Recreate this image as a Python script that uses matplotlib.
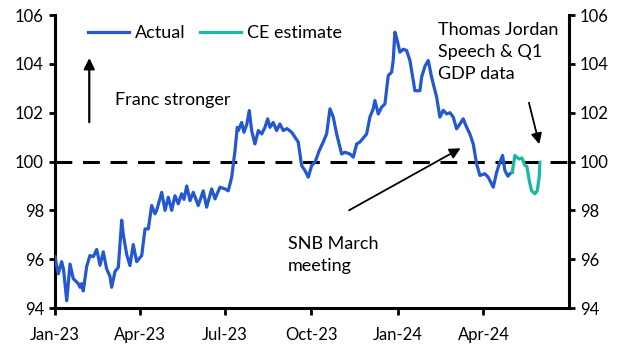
import matplotlib
matplotlib.use("Agg")
import matplotlib.pyplot as plt
import pandas as pd

plt.rcParams['font.family'] = ['Lato', 'DejaVu Sans']

# Days since 2023-01-01 and index values
actual_days = [0, 3.5, 7.1, 9.0, 12.5, 16.0, 19.5, 24.8, 26.6, 28.4, 30.1, 33.7, 37.2, 40.8, 44.4,
               47.9, 51.4, 55.0, 58.5, 60.3, 63.9, 67.4, 71.0, 72.7, 76.3, 79.8, 83.3, 86.9, 92.3,
               95.8, 99.3, 102.9, 106.4, 108.2, 113.6, 117.1, 120.6, 124.2, 127.7, 131.2, 134.8,
               137.3, 140.2, 143.7, 147.2, 152.5, 157.8, 161.4, 166.8, 170.3, 175.6, 180.9, 184.4,
               188.1, 191.6, 194.0, 195.1, 198.7, 201.1, 204.0, 206.8, 209.3, 212.8, 216.4, 220.0,
               223.5, 226.4, 228.8, 232.3, 235.9, 239.4, 243.0, 246.9, 251.9, 255.4, 258.9, 262.5,
               266.1, 269.6, 273.2, 276.7, 281.3, 285.5, 289.1, 292.7, 296.2, 299.8, 305.1, 308.6,
               313.9, 317.5, 321.1, 324.6, 331.7, 335.2, 338.7, 340.5, 344.1, 347.7, 351.2, 354.7,
               358.3, 360.0, 361.8, 364.3, 367.1, 370.7, 374.3, 377.8, 383.1, 388.4, 390.2, 393.7,
               397.3, 400.9, 406.2, 409.7, 413.3, 416.9, 420.4, 423.9, 427.5, 431.0, 434.5, 438.2,
               441.6, 445.2, 448.8, 452.3, 457.6, 461.1, 464.7, 466.5, 470.1, 472.9, 476.4, 478.9,
               482.1, 484.2, 486.7]
actual_vals = [96.1, 95.4, 95.9, 95.6, 94.3, 95.8, 95.2, 95.0, 94.85, 95.0, 94.7, 95.7, 96.15, 96.1,
               96.4, 95.75, 96.3, 95.6, 95.3, 94.85, 95.5, 95.67, 97.6, 97.0, 96.2, 95.74, 96.6, 95.9,
               96.15, 97.24, 97.24, 98.2, 97.86, 98.0, 98.74, 98.0, 98.54, 98.0, 98.6, 98.27, 98.68,
               98.45, 99.0, 98.4, 98.74, 98.2, 98.8, 98.13, 98.88, 98.47, 98.95, 98.88, 98.8, 99.36,
               100.45, 101.4, 101.27, 101.6, 101.2, 101.5, 102.09, 101.27, 100.72, 101.27, 101.13,
               101.4, 101.75, 101.4, 101.6, 101.27, 101.54, 101.27, 101.35, 101.2, 101.0, 100.8,
               99.84, 99.63, 99.36, 99.84, 99.97, 100.45, 100.8, 101.13, 102.16, 101.82, 101.13,
               100.31, 100.38, 100.31, 100.18, 100.72, 100.8, 101.13, 101.82, 102.16, 102.5, 101.95,
               102.23, 102.36, 103.52, 103.66, 104.14, 105.3, 104.96, 104.48, 104.6, 104.55, 104.14,
               102.9, 102.9, 103.45, 103.9, 104.14, 103.45, 102.64, 101.82, 102.1, 101.95, 102.0,
               101.82, 101.34, 101.54, 101.75, 101.4, 101.13, 100.72, 99.9, 99.43, 99.5, 99.36,
               99.09, 98.95, 99.56, 99.9, 100.25, 99.63, 99.4, 99.5, 99.56]

estimate_days = [486.7, 489.5, 494.1, 497.0, 500.2, 502.3, 504.8, 507.3, 510.8, 513.3, 515.4, 516.1]
estimate_vals = [99.56, 100.25, 100.1, 100.15, 99.84, 99.8, 99.22, 98.8, 98.68, 98.8, 99.36, 99.97]

y_ticks = [94, 96, 98, 100, 102, 104, 106]
x_tick_dates = ["2023-01-01", "2023-04-01", "2023-07-01", "2023-10-01", "2024-01-01", "2024-04-01"]
x_tick_labels = ["Jan-23", "Apr-23", "Jul-23", "Oct-23", "Jan-24", "Apr-24"]

base = pd.Timestamp("2023-01-01")
act_x = [base + pd.Timedelta(days=d) for d in actual_days]
est_x = [base + pd.Timedelta(days=d) for d in estimate_days]

BLUE = "#2457D2"
TEAL = "#1DB5A3"
FS_TICK = 12
FS_TEXT = 13

fig = plt.figure(figsize=(6.30, 3.59), dpi=100)
ax = fig.add_axes([0.0873, 0.142, 0.8157, 0.816])

ax.axhline(100, color="black", lw=2.2, ls=(0, (5.5, 3.5)), zorder=1)
ax.plot(act_x, actual_vals, color=BLUE, lw=2.3, label="Actual", zorder=3, solid_joinstyle="round")
ax.plot(est_x, estimate_vals, color=TEAL, lw=2.3, label="CE estimate", zorder=3, solid_joinstyle="round")

ax.set_xlim(pd.Timestamp("2023-01-01"), pd.Timestamp("2024-07-01"))
ax.set_ylim(94, 106)
ax.set_yticks(y_ticks)
ax.set_yticklabels([str(v) for v in y_ticks])
ax.set_xticks([pd.Timestamp(d) for d in x_tick_dates])
ax.set_xticklabels(x_tick_labels)

for s in ["left", "right", "bottom"]:
    ax.spines[s].set_linewidth(2.2)
    ax.spines[s].set_color("black")
ax.spines["top"].set_visible(False)
ax.tick_params(axis="y", which="both", left=True, right=True, labelleft=True, labelright=True,
               direction="out", length=4, width=2, labelsize=FS_TICK, pad=4)
ax.tick_params(axis="x", direction="out", length=5, width=2, labelsize=FS_TICK, pad=9)

leg = ax.legend(loc="center left", bbox_to_anchor=(0.064, 0.939), ncol=2, frameon=False,
                fontsize=FS_TEXT, handlelength=2.3, handletextpad=0.3, columnspacing=0.8,
                borderaxespad=0, borderpad=0)

# Annotations
ax.annotate("", xy=(0.0667, 0.863), xytext=(0.0667, 0.625), xycoords="axes fraction",
            arrowprops=dict(arrowstyle="-|>", color="black", lw=1.6, mutation_scale=16))
ax.text(0.1167, 0.71, "Franc stronger", transform=ax.transAxes, fontsize=FS_TEXT, va="center", ha="left")

ax.annotate("", xy=(0.794, 0.55), xytext=(0.5675, 0.329), xycoords="axes fraction",
            arrowprops=dict(arrowstyle="-|>", color="black", lw=1.3, mutation_scale=16))
ax.text(0.453, 0.181, "SNB March\nmeeting", transform=ax.transAxes, fontsize=FS_TEXT,
        va="center", ha="left", linespacing=1.45)

ax.annotate("", xy=(0.9436, 0.55), xytext=(0.921, 0.71), xycoords="axes fraction",
            arrowprops=dict(arrowstyle="-|>", color="black", lw=1.3, mutation_scale=16))
ax.text(0.745, 0.874, "Thomas Jordan\nSpeech & Q1\nGDP data", transform=ax.transAxes, fontsize=FS_TEXT,
        va="center", ha="left", linespacing=1.45)

fig.savefig("out.png", dpi=100)
